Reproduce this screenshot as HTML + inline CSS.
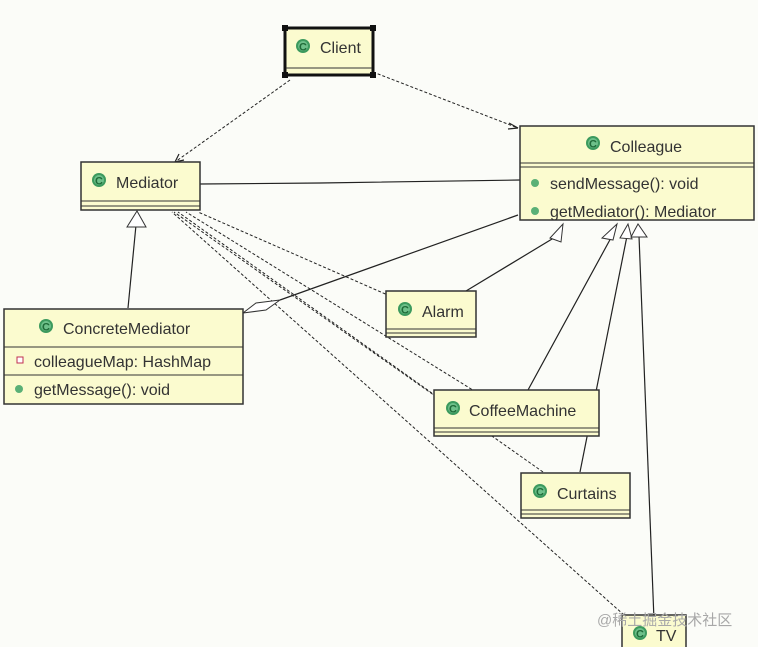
<!DOCTYPE html>
<html><head><style>
body{margin:0;background:#fbfcf8;}
svg{display:block;font-family:"Liberation Sans","DejaVu Sans",sans-serif;}
.b{fill:#fbfbcf;stroke:#333;stroke-width:1.5}
.t{font-size:16px;fill:#333}
.d{stroke:#222;stroke-width:1;stroke-dasharray:3,2;fill:none}
.s{stroke:#222;stroke-width:1.2;fill:none}
.tri{fill:#fff;stroke:#333;stroke-width:1}
</style></head><body>
<svg width="758" height="647" viewBox="0 0 758 647">
<defs>
<g id="c"><circle r="7" fill="#3c9a5e"/><circle r="5" fill="#6ec08a"/><text x="-4" y="4.5" font-size="11" font-weight="bold" fill="#1f6b39">C</text></g>
</defs>
<!-- dashed deps to Mediator -->
<path class="d" d="M290 80 L175 162"/><path class="s" d="M175 162 l9 -2 M175 162 l4 -8"/>
<path class="d" d="M373 72 L518 128"/><path class="s" d="M518 128 l-9 -5 M518 128 l-10 1"/>
<path class="d" d="M390 296 L198 212"/>
<path class="d" d="M476 392 L186 212"/>
<path class="d" d="M436 396 L178 212"/>
<path class="d" d="M543 472 L174 212"/>
<path class="d" d="M624 615 L172 212"/>
<!-- association -->
<path class="s" d="M200 184 L320 183 L520 180"/>
<!-- aggregation -->
<path class="s" d="M280 300 L518 215"/>
<path class="tri" d="M243 313 L256 303 L280 300 L266 310 Z"/>
<!-- generalizations -->
<path class="s" d="M128 308 L136 225"/><path class="tri" d="M137 211 L127 227 L146 227 Z"/>
<path class="s" d="M466 291 L557 236"/><path class="tri" d="M563 224 L550 238 L561 242 Z"/>
<path class="s" d="M528 390 L612 236"/><path class="tri" d="M617 224 L602 238 L613 240 Z"/>
<path class="s" d="M580 472 L627 236"/><path class="tri" d="M628 224 L620 238 L632 239 Z"/>
<path class="s" d="M654 620 L639 236"/><path class="tri" d="M638 224 L631 237 L647 237 Z"/>
<!-- Client -->
<rect x="285" y="28" width="88" height="47" fill="#fbfbcf" stroke="#111" stroke-width="3"/>
<line x1="286" y1="68" x2="372" y2="68" stroke="#333"/>
<rect x="282" y="25" width="6" height="6" fill="#111"/><rect x="370" y="25" width="6" height="6" fill="#111"/>
<rect x="282" y="72" width="6" height="6" fill="#111"/><rect x="370" y="72" width="6" height="6" fill="#111"/>
<use href="#c" x="303" y="46"/><text class="t" x="320" y="53">Client</text>
<!-- Mediator -->
<rect class="b" x="81" y="162" width="119" height="48"/>
<line x1="81" y1="201" x2="200" y2="201" stroke="#333"/><line x1="81" y1="206" x2="200" y2="206" stroke="#333"/>
<use href="#c" x="99" y="180"/><text class="t" x="116" y="188">Mediator</text>
<!-- Colleague -->
<rect class="b" x="520" y="126" width="234" height="94"/>
<line x1="520" y1="163" x2="754" y2="163" stroke="#333"/><line x1="520" y1="167" x2="754" y2="167" stroke="#333"/>
<use href="#c" x="593" y="143"/><text class="t" x="610" y="152">Colleague</text>
<circle cx="535" cy="183" r="4" fill="#5ab076"/><text class="t" x="550" y="189">sendMessage(): void</text>
<circle cx="535" cy="211" r="4" fill="#5ab076"/><text class="t" x="550" y="217">getMediator(): Mediator</text>
<!-- ConcreteMediator -->
<rect class="b" x="4" y="309" width="239" height="95"/>
<line x1="4" y1="347" x2="243" y2="347" stroke="#333"/><line x1="4" y1="375" x2="243" y2="375" stroke="#333"/>
<use href="#c" x="46" y="326"/><text class="t" x="63" y="334">ConcreteMediator</text>
<rect x="17" y="357" width="6" height="6" fill="#fff" stroke="#c03050"/><text class="t" x="34" y="367">colleagueMap: HashMap</text>
<circle cx="19" cy="389" r="4" fill="#5ab076"/><text class="t" x="34" y="395">getMessage(): void</text>
<!-- Alarm -->
<rect class="b" x="386" y="291" width="90" height="46"/>
<line x1="386" y1="329" x2="476" y2="329" stroke="#333"/><line x1="386" y1="333" x2="476" y2="333" stroke="#333"/>
<use href="#c" x="405" y="309"/><text class="t" x="422" y="317">Alarm</text>
<!-- CoffeeMachine -->
<rect class="b" x="434" y="390" width="165" height="46"/>
<line x1="434" y1="428" x2="599" y2="428" stroke="#333"/><line x1="434" y1="432" x2="599" y2="432" stroke="#333"/>
<use href="#c" x="453" y="408"/><text class="t" x="469" y="416">CoffeeMachine</text>
<!-- Curtains -->
<rect class="b" x="521" y="473" width="109" height="45"/>
<line x1="521" y1="510" x2="630" y2="510" stroke="#333"/><line x1="521" y1="514" x2="630" y2="514" stroke="#333"/>
<use href="#c" x="540" y="491"/><text class="t" x="557" y="499">Curtains</text>
<!-- TV -->
<rect class="b" x="622" y="615" width="64" height="40"/>
<use href="#c" x="640" y="633"/><text class="t" x="656" y="641">TV</text>
<text x="597" y="625" font-size="15" fill="#a8a8a8" font-family="'Liberation Sans','Noto Sans CJK SC',sans-serif">@稀土掘金技术社区</text>
</svg>
</body></html>
